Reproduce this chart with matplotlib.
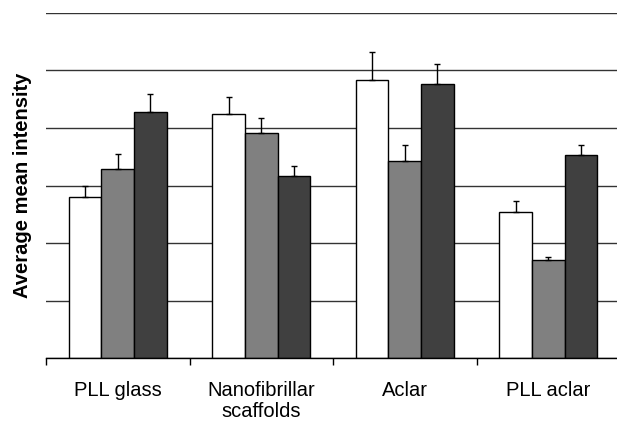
import numpy as np
import matplotlib
matplotlib.use('Agg')
import matplotlib.pyplot as plt

categories = ['PLL glass', 'Nanofibrillar\nscaffolds', 'Aclar', 'PLL aclar']
# three series per substrate (white, grey, dark)
white = [2.80, 4.24, 4.83, 2.54]
white_err = [0.19, 0.30, 0.49, 0.19]
grey = [3.29, 3.92, 3.43, 1.70]
grey_err = [0.26, 0.26, 0.28, 0.06]
dark = [4.27, 3.17, 4.77, 3.53]
dark_err = [0.32, 0.17, 0.34, 0.18]

plt.rcParams['font.family'] = ['Liberation Sans', 'DejaVu Sans']

fig = plt.figure(figsize=(6.17, 4.22), dpi=100)
ax = fig.add_axes([46 / 617, 63.7 / 422, 574 / 617, 345.6 / 422])

x = np.arange(len(categories))
w = 0.228
series = [(white, white_err, 'white'), (grey, grey_err, '#808080'), (dark, dark_err, '#404040')]
for i, (vals, errs, col) in enumerate(series):
    pos = x + (i - 1) * w
    ax.bar(pos, vals, w, color=col, edgecolor='black', linewidth=1, zorder=3)
    ax.errorbar(pos, vals, yerr=[np.zeros(len(errs)), errs], fmt='none',
                ecolor='black', elinewidth=1, capsize=2.5, capthick=1, zorder=4)

ax.set_xlim(-0.5, 3.5)
ax.set_ylim(0, 6)
ax.set_yticks(np.arange(0, 7, 1))
ax.yaxis.grid(True, color='#333333', linewidth=1, zorder=0)
ax.tick_params(axis='y', length=0, labelleft=False)

ax.set_xticks(x)
ax.set_xticklabels(categories, fontsize=14.5, va='top', linespacing=1.15)
ax.tick_params(axis='x', which='major', length=0, pad=16)
ax.set_xticks(np.arange(-0.5, 4, 1), minor=True)
ax.tick_params(axis='x', which='minor', length=5, width=1, color='black', direction='out')

for s in ['left', 'top', 'right']:
    ax.spines[s].set_visible(False)
ax.spines['bottom'].set_color('black')
ax.spines['bottom'].set_linewidth(1)
ax.spines['bottom'].set_zorder(5)

ax.set_ylabel('Average mean intensity', fontsize=14.5, fontweight='bold', labelpad=10)

fig.savefig('out.png', dpi=100)
